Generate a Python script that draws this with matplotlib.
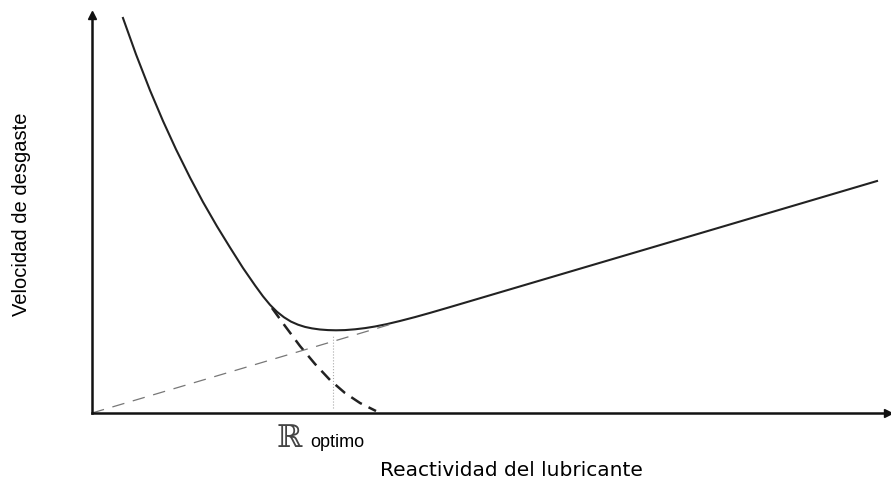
import numpy as np
import matplotlib
matplotlib.use("Agg")
from matplotlib import pyplot as plt

# total wear curve (x: reactivity, y: wear rate, arbitrary units)
wear_x = [0.389, 0.553, 0.729, 0.892, 1.055, 1.231, 1.394, 1.570, 1.734, 1.897,
          2.048, 2.148, 2.236, 2.324, 2.412, 2.500, 2.588, 2.676, 2.764, 2.864,
          2.965, 3.065, 3.178, 3.304, 3.430, 3.555, 3.706, 3.869, 4.058, 4.246,
          4.497, 6.131, 7.638, 9.862]
wear_y = [9.925, 9.010, 8.106, 7.337, 6.626, 5.917, 5.302, 4.691, 4.158, 3.643,
          3.206, 2.932, 2.719, 2.543, 2.405, 2.296, 2.219, 2.163, 2.126, 2.098,
          2.083, 2.078, 2.083, 2.103, 2.133, 2.173, 2.234, 2.312, 2.410, 2.515,
          2.661, 3.626, 4.515, 5.829]

# corrosive part (thick dashed) and mechanical part (thin dashed)
corr_x = [2.261, 2.425, 2.613, 2.802, 2.990, 3.178, 3.367, 3.568]
corr_y = [2.638, 2.186, 1.683, 1.231, 0.829, 0.503, 0.251, 0.050]
mech_x = [0.0, 3.77]
mech_y = [0.0, 2.24]

r_opt = 3.03
r_opt_y = [0.12, 1.96]

fig = plt.figure(figsize=(8.91, 4.82), dpi=100)
ax = fig.add_axes([92 / 891, 69 / 482, 796 / 891, 398 / 482])
ax.set_xlim(0, 10)
ax.set_ylim(0, 10)

ax.plot(wear_x, wear_y, color="#222222", lw=1.5, solid_joinstyle="round")
ax.plot(corr_x, corr_y, color="#222222", lw=1.8, dashes=(5, 3))
ax.plot(mech_x, mech_y, color="#777777", lw=0.9, dashes=(10, 7))
ax.plot([r_opt, r_opt], r_opt_y, color="#aaaaaa", lw=0.8, ls=":")

# axes with arrows
for s in ["top", "right"]:
    ax.spines[s].set_visible(False)
for s in ["left", "bottom"]:
    ax.spines[s].set_linewidth(1.8)
    ax.spines[s].set_color("#111111")
ax.set_xticks([])
ax.set_yticks([])
ax.plot(1, 0, ">", color="#111111", ms=6, transform=ax.transAxes, clip_on=False)
ax.plot(0, 1, "^", color="#111111", ms=6, transform=ax.transAxes, clip_on=False)

ax.text(2.32, -0.85, "ℝ", fontsize=22, family="DejaVu Serif", color="#444444",
        ha="left", va="baseline", clip_on=False)
ax.text(2.74, -0.85, "optimo", fontsize=13, family="Liberation Sans",
        ha="left", va="baseline", clip_on=False)
ax.text(3.62, -1.58, "Reactividad del lubricante", fontsize=14.5,
        family="DejaVu Sans", ha="left", va="baseline", clip_on=False)
ax.text(-0.88, 4.99, "Velocidad de desgaste", fontsize=14.5, rotation=90,
        family="Liberation Sans", ha="center", va="center", clip_on=False)

plt.savefig("out.png", dpi=100)
